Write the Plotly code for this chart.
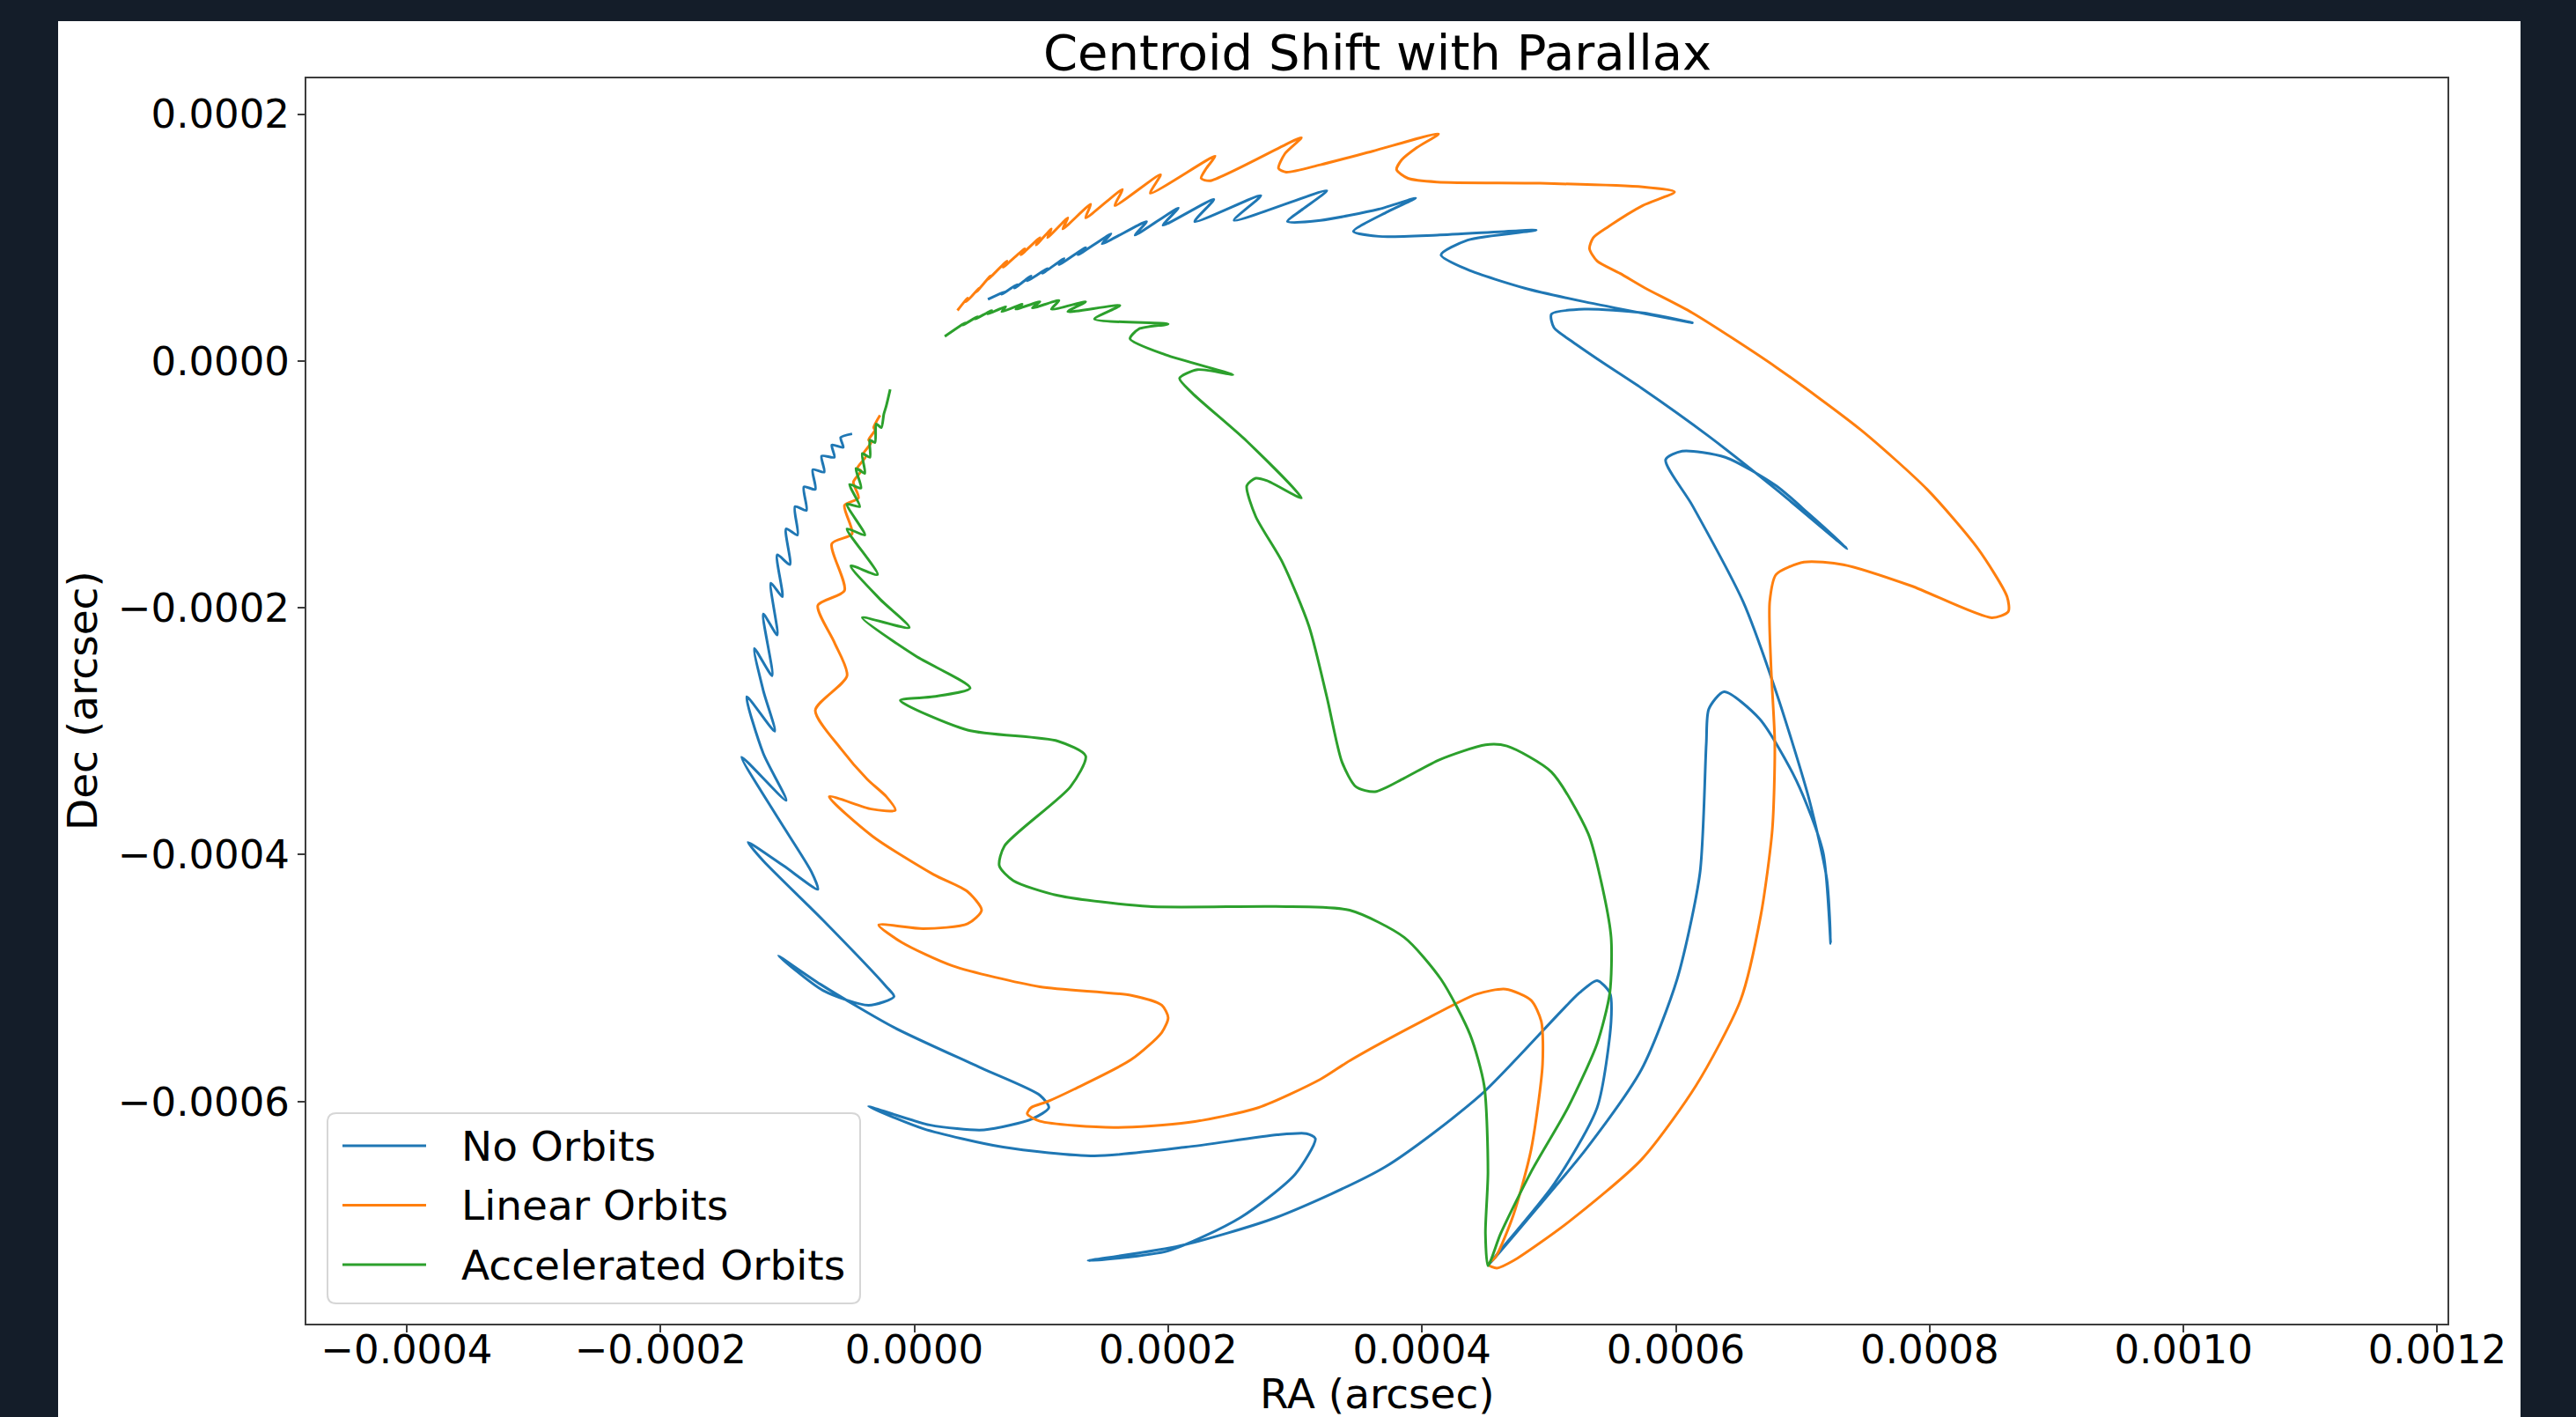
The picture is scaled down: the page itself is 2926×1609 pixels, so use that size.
import numpy as np
import plotly.graph_objects as go

# Centroid tracks in micro-arcseconds (RA offset, Dec offset), one point list per model
no_orbits_ra = [58, 71, 69, 81, 79, 92, 89, 105, 101, 118,
                114, 135, 129, 155, 148, 183, 174, 208, 196, 236,
                221, 273, 252, 325, 306, 294, 320, 366, 395, 373,
                346, 366, 412, 490, 436, 415, 436, 481, 528, 613,
                574, 528, 502, 504, 518, 542, 573, 626, 679, 735, 705,
                679, 639, 605, 592, 613, 653, 679, 705, 719, 722,
                716, 695, 666, 638, 626, 624, 619, 601, 573, 529,
                486, 458, 452, 459, 504, 538, 549, 548, 538, 524,
                446, 371, 285, 209, 137, 200, 257, 300, 316, 309,
                286, 214, 142, 70, 7, -36, 12, 55, 93, 106,
                99, 53, -16, -74, -107, -72, -36, -16, -22, -72,
                -119, -131, -103, -76, -81, -107, -136, -101, -119, -132,
                -110, -119, -126, -112, -119, -108, -113, -104, -108, -98,
                -101, -92, -94, -85, -87, -78, -80, -71, -73, -63,
                -65, -56, -58, -49]
no_orbits_dec = [50, 56, 54, 62, 59, 69, 65, 75, 71, 83,
                 78, 92, 86, 103, 95, 113, 102, 124, 110, 131,
                 113, 134, 114, 138, 123, 113, 114, 123, 132, 121,
                 105, 101, 102, 106, 98, 86, 74, 59, 48, 31,
                 39, 42, 38, 27, 16, -1, -22, -61, -104, -152, -124,
                 -101, -78, -73, -80, -117, -195, -268, -355, -420, -472,
                 -398, -340, -290, -268, -282, -310, -415, -501, -574, -639,
                 -692, -726, -733, -724, -667, -605, -535, -512, -502, -512,
                 -595, -653, -694, -717, -729, -721, -694, -659, -630, -626,
                 -627, -637, -644, -637, -622, -604, -619, -623, -614, -605,
                 -595, -573, -540, -505, -482, -510, -522, -515, -507, -453,
                 -405, -390, -409, -428, -414, -371, -321, -356, -318, -272,
                 -300, -267, -233, -255, -205, -222, -180, -191, -157, -165,
                 -136, -141, -118, -121, -102, -104, -88, -90, -77, -78,
                 -68, -70, -62, -59]

linear_ra = [34, 42, 41, 51, 49, 60, 58, 73, 70, 87,
             84, 99, 96, 108, 105, 121, 117, 139, 135, 164,
             158, 194, 186, 237, 230, 226, 233, 305, 292, 287,
             293, 320, 361, 413, 396, 384, 380, 389, 412, 493,
             574, 599, 574, 547, 535, 532, 538, 556, 576, 613, 679, 746,
             798, 838, 861, 862, 849, 785, 732, 701, 679, 674,
             675, 678, 676, 667, 651, 616, 573, 515, 472, 459,
             452, 458, 472, 486, 495, 494, 486, 466, 443, 400,
             343, 320, 271, 216, 157, 99, 89, 92, 105, 126,
             171, 195, 200, 195, 171, 99, 30, -10, -28, 7,
             42, 53, 42, 15, -33, -67, -34, -15, -22, -37,
             -58, -78, -53, -63, -76, -55, -65, -49, -55, -44,
             -48, -42, -45, -38, -40, -34, -36, -31, -32, -27]
linear_dec = [41, 51, 48, 59, 56, 69, 66, 81, 76, 91,
              86, 100, 94, 107, 100, 116, 107, 127, 116, 139,
              126, 151, 136, 166, 156, 148, 146, 181, 168, 156,
              153, 159, 170, 184, 173, 163, 155, 148, 145, 144,
              141, 137, 126, 109, 100, 91, 81, 71, 59, 39, -5, -56,
              -104, -152, -191, -203, -208, -182, -165, -163, -173, -195,
              -247, -310, -380, -449, -518, -587, -647, -698, -729, -735,
              -732, -726, -692, -639, -570, -535, -518, -509, -513, -535,
              -567, -582, -605, -617, -621, -616, -610, -605, -600, -590,
              -566, -544, -532, -522, -514, -507, -490, -471, -457, -460,
              -456, -445, -430, -416, -385, -353, -363, -364, -353, -339,
              -314, -283, -255, -228, -198, -186, -148, -140, -117, -111,
              -98, -89, -87, -77, -75, -66, -64, -56, -54, -44]

accel_ra = [24, 40, 38, 50, 48, 61, 58, 72, 69, 85,
            80, 99, 93, 114, 108, 135, 121, 162, 142, 200,
            177, 170, 198, 251, 223, 209, 219, 262, 305, 278,
            269, 262, 269, 290, 311, 325, 337, 348, 363, 386,
            414, 450, 467, 502, 531, 541, 549, 548, 538, 515,
            486, 462, 452, 450, 452, 449, 438, 415, 386, 343,
            285, 185, 113, 78, 67, 71, 123, 135, 113, 42,
            -11, 15, 44, 1, -41, -4, -27, -50, -29, -53,
            -39, -53, -43, -51, -42, -46, -39, -41, -35, -35,
            -31, -30, -26, -24, -22, -19]
accel_dec = [20, 31, 29, 36, 34, 41, 38, 44, 40, 46,
             42, 48, 43, 49, 42, 48, 40, 45, 34, 30,
             26, 18, 5, -11, -7, -14, -26, -65, -111, -97,
             -95, -101, -126, -163, -215, -272, -325, -345, -349, -338,
             -323, -311, -312, -333, -383, -421, -467, -512, -553, -605,
             -657, -707, -733, -707, -657, -587, -546, -501, -467, -445,
             -442, -442, -433, -421, -409, -393, -345, -320, -308, -299,
             -275, -272, -265, -239, -208, -216, -193, -166, -173, -136,
             -141, -116, -118, -100, -103, -87, -91, -75, -78, -64,
             -66, -51, -54, -43, -36, -23]

series_names = ["No Orbits", "Linear Orbits", "Accelerated Orbits"]
series_colors = ["#1f77b4", "#ff7f0e", "#2ca02c"]

x_tick_values = [-0.0004, -0.0002, 0.0, 0.0002, 0.0004, 0.0006, 0.0008, 0.0010, 0.0012]
y_tick_values = [-0.0006, -0.0004, -0.0002, 0.0, 0.0002]
x_range = [-0.000479, 0.001208]
y_range = [-0.000780, 0.000229]

UAS = 1e-6  # micro-arcsecond -> arcsecond

# canvas geometry (pixels)
W, H = 2926, 1609
ML, MR, MT, MB = 348, 146, 89, 106
PW, PH = W - ML - MR, H - MT - MB


def px_x(px):
    return (px - ML) / PW


def px_y(py):
    return (H - MB - py) / PH


def tick_text(v):
    s = f"{v:.4f}"
    return "\u2212" + s[1:] if s.startswith("-") else s


FONT = "DejaVu Sans"
FRAME = "#3c3c3c"
TICK_SIZE, LABEL_SIZE, TITLE_SIZE = 45, 47, 56

fig = go.Figure()
tracks = [(no_orbits_ra, no_orbits_dec), (linear_ra, linear_dec), (accel_ra, accel_dec)]
for (ra, dec), name, color in zip(tracks, series_names, series_colors):
    fig.add_trace(go.Scatter(
        x=np.array(ra) * UAS, y=np.array(dec) * UAS, mode="lines", name=name,
        line=dict(color=color, width=3, shape="spline", smoothing=0.7),
        showlegend=False, hoverinfo="skip"))

axis_common = dict(showgrid=False, zeroline=False, showline=True, linecolor=FRAME,
                   linewidth=2, mirror=True, ticks="outside", ticklen=8, tickwidth=2,
                   tickcolor=FRAME, tickfont=dict(family=FONT, size=TICK_SIZE, color="black"))
fig.update_xaxes(range=x_range, tickvals=x_tick_values, ticklabelstandoff=-19,
                 ticktext=[tick_text(v) for v in x_tick_values], **axis_common)
fig.update_yaxes(range=y_range, tickvals=y_tick_values,
                 ticktext=[tick_text(v) for v in y_tick_values], **axis_common)

shapes = [dict(type="rect", xref="paper", yref="paper", layer="below",
               x0=px_x(66), x1=px_x(2863), y0=px_y(1640), y1=px_y(24),
               fillcolor="white", line=dict(width=0))]

# legend frame with rounded corners
lx0, lx1, ly0, ly1 = px_x(372), px_x(977), px_y(1480), px_y(1264)
rx, ry = 10 / PW, 10 / PH
path = (f"M {lx0+rx},{ly0} L {lx1-rx},{ly0} Q {lx1},{ly0} {lx1},{ly0+ry} "
        f"L {lx1},{ly1-ry} Q {lx1},{ly1} {lx1-rx},{ly1} L {lx0+rx},{ly1} "
        f"Q {lx0},{ly1} {lx0},{ly1-ry} L {lx0},{ly0+ry} Q {lx0},{ly0} {lx0+rx},{ly0} Z")
shapes.append(dict(type="path", xref="paper", yref="paper", path=path,
                   fillcolor="rgba(255,255,255,0.8)", line=dict(color="#d6d6d6", width=2)))

annotations = []
for i, (name, color) in enumerate(zip(series_names, series_colors)):
    row_y = px_y(1301 + 67.5 * i)
    shapes.append(dict(type="line", xref="paper", yref="paper",
                       x0=px_x(389), x1=px_x(484), y0=row_y, y1=row_y,
                       line=dict(color=color, width=3)))
    annotations.append(dict(xref="paper", yref="paper", x=px_x(522), y=row_y,
                            xanchor="left", yanchor="middle", showarrow=False,
                            text=name, font=dict(family=FONT, size=LABEL_SIZE, color="black")))

annotations += [
    dict(xref="paper", yref="paper", x=0.5, y=px_y(59), xanchor="center", yanchor="middle",
         showarrow=False, text="Centroid Shift with Parallax",
         font=dict(family=FONT, size=TITLE_SIZE, color="black")),
    dict(xref="paper", yref="paper", x=0.5, y=px_y(1582), xanchor="center", yanchor="middle",
         showarrow=False, text="RA (arcsec)", borderpad=0,
         font=dict(family=FONT, size=LABEL_SIZE, color="black")),
    dict(xref="paper", yref="paper", x=px_x(93), y=0.5, xanchor="center", yanchor="middle",
         showarrow=False, text="Dec (arcsec)", textangle=-90,
         font=dict(family=FONT, size=LABEL_SIZE, color="black")),
]

fig.update_layout(width=W, height=H, autosize=False,
                  margin=dict(l=ML, r=MR, t=MT, b=MB, pad=0),
                  paper_bgcolor="#141d29", plot_bgcolor="white",
                  showlegend=False, shapes=shapes, annotations=annotations,
                  font=dict(family=FONT, size=TICK_SIZE, color="black"))

fig.write_html("out.html", post_script="document.body.style.margin='0';")
